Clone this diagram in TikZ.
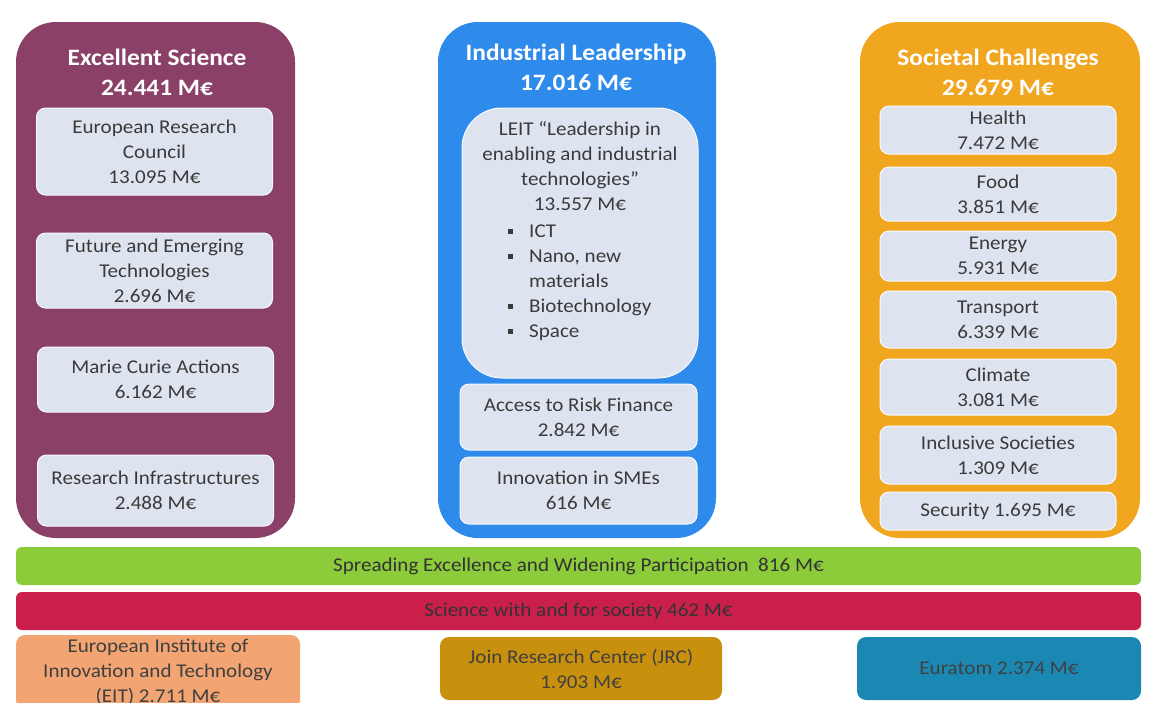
\documentclass[tikz,border=0pt]{standalone}
\usepackage{fontspec}
\setmainfont{Carlito}[FakeStretch=1.08]
\definecolor{purpleC}{HTML}{8B4068}
\definecolor{blueC}{HTML}{2F8BEB}
\definecolor{orangeC}{HTML}{F0A61E}
\definecolor{innerC}{HTML}{DDE4EF}
\definecolor{greenC}{HTML}{8CCB3A}
\definecolor{redC}{HTML}{C91F4A}
\definecolor{eitC}{HTML}{F2A572}
\definecolor{jrcC}{HTML}{C8900C}
\definecolor{euraC}{HTML}{1B88B4}
\definecolor{txtC}{HTML}{3A3A3A}
\newcommand\hbul{\makebox[21pt][l]{\raisebox{3pt}{\rule{5pt}{5pt}}}}
\tikzset{
  col/.style={rounded corners=40pt, inner sep=0pt, minimum width=#1, minimum height=516},
  coltitle/.style={text=white, font=\fontsize{23.5}{30}\selectfont\bfseries, align=center},
  sub/.style={fill=innerC, draw=white!85!innerC, line width=1pt, rounded corners=9pt, inner sep=0pt,
    text=txtC, font=\fontsize{19.5}{25}\selectfont, align=center, minimum width=236},
  bar/.style={rounded corners=6pt, inner sep=0pt, minimum width=1125, minimum height=38,
    text=black!80, font=\fontsize{19.5}{25}\selectfont},
  bot/.style={rounded corners=9pt, inner sep=0pt, minimum width=284,
    text=black!75, font=\fontsize{19.5}{25}\selectfont, align=center},
  txt/.style={text=txtC, font=\fontsize{19.5}{25}\selectfont, inner sep=0pt}
}
\begin{document}
\begin{tikzpicture}[x=1pt,y=-1pt]
\useasboundingbox (0,0) rectangle (1156,702);
\clip (0,0) rectangle (1156,702);
% columns
\node[col=279, fill=purpleC] (es) at (155.5,280) {};
\node[col=278, fill=blueC] (il) at (577,280) {};
\node[col=280, fill=orangeC] (sc) at (1000,280) {};
\node[coltitle] (est) at (157,72) {Excellent Science\\24.441 M€};
\node[coltitle] (ilt) at (576,67.5) {Industrial Leadership\\17.016 M€};
\node[coltitle] (sct) at (998,72) {Societal Challenges\\29.679 M€};
% excellent science
\node[sub, minimum height=87] (erc) at (154.5,151.5) {European Research\\Council\\13.095 M€};
\node[sub, minimum height=75] (fet) at (154.5,270.5) {Future and Emerging\\Technologies\\2.696 M€};
\node[sub, minimum height=65] (mca) at (155.5,379.5) {Marie Curie Actions\\6.162 M€};
\node[sub, minimum height=71] (ri) at (155.5,490.5) {Research Infrastructures\\2.488 M€};
% industrial leadership
\node[sub, rounded corners=40pt, minimum height=270] (leit) at (580,243) {};
\node[txt, align=center] (leith) at (580,166) {LEIT ``Leadership in\\enabling and industrial\\technologies''\\13.557 M€};
\node[txt, align=left, anchor=base west] (leitl) at (508,337) {\hbul ICT\\\hbul Nano, new\\\hspace*{21pt}materials\\\hbul Biotechnology\\\hbul Space};
\node[sub, minimum height=66, minimum width=237] (arf) at (578.5,417) {Access to Risk Finance\\2.842 M€};
\node[sub, minimum height=67, minimum width=237] (sme) at (578.5,490.5) {Innovation in SMEs\\616 M€};
% societal challenges
\node[sub, minimum height=48] (hea) at (998,130) {Health\\7.472 M€};
\node[sub, minimum height=54] (foo) at (998,194) {Food\\3.851 M€};
\node[sub, minimum height=50] (ene) at (998,256) {Energy\\5.931 M€};
\node[sub, minimum height=57] (tra) at (998,319.5) {Transport\\6.339 M€};
\node[sub, minimum height=56] (cli) at (998,387) {Climate\\3.081 M€};
\node[sub, minimum height=58] (inc) at (998,455) {Inclusive Societies\\1.309 M€};
\node[sub, minimum height=38] (sec) at (998,511) {Security 1.695 M€};
% bars
\node[bar, fill=greenC] (spr) at (578.5,566) {Spreading Excellence and Widening Participation\ \ 816 M€};
\node[bar, fill=redC] (swf) at (578.5,611) {Science with and for society 462 M€};
% bottom boxes
\node[bot, fill=eitC, minimum height=74] (eit) at (158,672) {European Institute of\\Innovation and Technology\\(EIT) 2.711 M€};
\node[bot, fill=jrcC, minimum width=282, minimum height=63] (jrc) at (581,668.5) {Join Research Center (JRC)\\1.903 M€};
\node[bot, fill=euraC, minimum height=63] (eur) at (999,668.5) {Euratom 2.374 M€};
\end{tikzpicture}
\end{document}
